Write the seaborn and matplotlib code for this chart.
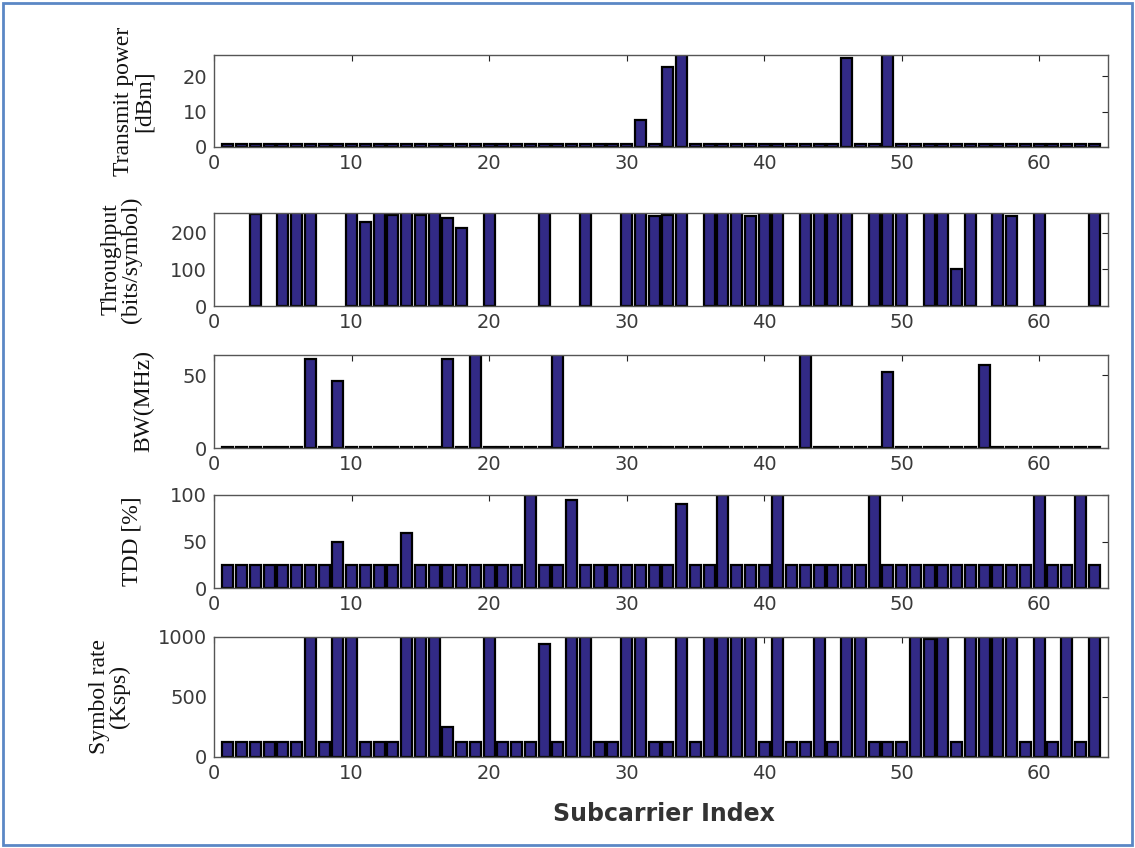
import numpy as np
import pandas as pd
import matplotlib
matplotlib.use("Agg")
import matplotlib.pyplot as plt
import seaborn as sns
from matplotlib.patches import Rectangle

sns.set_theme(style="white")

subcarriers = list(range(1, 65))

# Transmit power [dBm]
tx_power = [0.8] * 64
for k, v in {31: 7.6, 33: 22.6, 34: 27, 46: 25.2, 49: 27}.items():
    tx_power[k - 1] = v

# Throughput (bits/symbol)
throughput = [0] * 64
for k, v in {3: 250, 5: 256, 6: 256, 7: 256, 10: 256, 11: 230, 12: 256, 13: 248,
             14: 256, 15: 248, 16: 256, 17: 239, 18: 212, 20: 256, 24: 256, 27: 256,
             30: 256, 31: 256, 32: 245, 33: 248, 34: 256, 36: 256, 37: 256, 38: 256,
             39: 247, 40: 256, 41: 256, 43: 256, 44: 256, 45: 256, 46: 256, 48: 256,
             49: 256, 50: 256, 52: 256, 53: 256, 54: 101, 55: 256, 57: 256, 58: 247,
             60: 256, 64: 256}.items():
    throughput[k - 1] = v

# Bandwidth (MHz)
bandwidth = [0.8] * 64
for k, v in {7: 61.4, 9: 46, 17: 61.4, 19: 66, 25: 66, 43: 66, 49: 52.2, 56: 56.8}.items():
    bandwidth[k - 1] = v

# TDD [%]
tdd = [25] * 64
for k, v in {9: 50, 14: 59, 23: 100, 26: 95, 34: 90, 37: 100, 41: 100, 48: 100,
             60: 100, 63: 100}.items():
    tdd[k - 1] = v

# Symbol rate (Ksps)
symbol_rate = [125] * 64
for k, v in {7: 1000, 9: 1000, 10: 1000, 14: 1000, 15: 1000, 16: 1000, 17: 250,
             20: 1000, 24: 940, 26: 1000, 27: 1000, 30: 1000, 31: 1000, 34: 1000,
             36: 1000, 37: 1000, 38: 1000, 39: 1000, 41: 1000, 44: 1000, 46: 1000,
             47: 1000, 51: 1000, 52: 980, 53: 1000, 55: 1000, 56: 1000, 57: 1000,
             58: 1000, 60: 1000, 62: 1000, 64: 1000}.items():
    symbol_rate[k - 1] = v

panels = [
    ("Transmit power\n[dBm]", tx_power, 26, [0, 10, 20]),
    ("Throughput\n(bits/symbol)", throughput, 254, [0, 100, 200]),
    ("BW(MHz)", bandwidth, 64, [0, 50]),
    ("TDD [%]", tdd, 100, [0, 50, 100]),
    ("Symbol rate\n(Ksps)", symbol_rate, 1000, [0, 500, 1000]),
]

W, H = 1135, 848
fig = plt.figure(figsize=(W / 100, H / 100), dpi=100)
fig.patch.set_facecolor("white")
fig.add_artist(Rectangle((3 / W, 3 / H), 1 - 6 / W, 1 - 6 / H, transform=fig.transFigure,
                         fill=False, edgecolor="#5b87c5", linewidth=2))

# pixel boxes (top, bottom)
boxes = [(55, 147), (213, 306), (355, 448), (495, 588), (637, 757)]
left_px, right_px = 214, 1108

bar_color = "#322a86"
tick_color = "#3a3a3a"

for (label, vals, ymax, yticks), (top, bot) in zip(panels, boxes):
    ax = fig.add_axes([left_px / W, 1 - bot / H, (right_px - left_px) / W, (bot - top) / H])
    df = pd.DataFrame({"idx": subcarriers, "val": vals})
    df = df[df["val"] > 0]
    sns.barplot(data=df, x="idx", y="val", native_scale=True, width=0.8,
                color=bar_color, saturation=1, edgecolor="black", linewidth=1.6, ax=ax)
    ax.set_xlim(0, 65)
    ax.set_ylim(0, ymax)
    ax.set_xticks([0, 10, 20, 30, 40, 50, 60])
    ax.set_yticks(yticks)
    ax.tick_params(direction="in", length=4, width=0.8, top=True, right=True,
                   labelsize=14, colors="#222222", labelcolor=tick_color, pad=5)
    for s in ax.spines.values():
        s.set_color("#555555")
        s.set_linewidth(1.0)
    ax.set_xlabel("")
    ax.set_ylabel(label, family=["Liberation Serif"], fontsize=17, color="#111111",
                  linespacing=0.95, labelpad=20)
    ax.grid(False)

fig.text(664 / W, 1 - 814 / H, "Subcarrier Index", ha="center", va="center",
         fontsize=17, fontweight="bold", color="#333333", family=["DejaVu Sans"])

fig.savefig("out.png", dpi=100, facecolor="white")
